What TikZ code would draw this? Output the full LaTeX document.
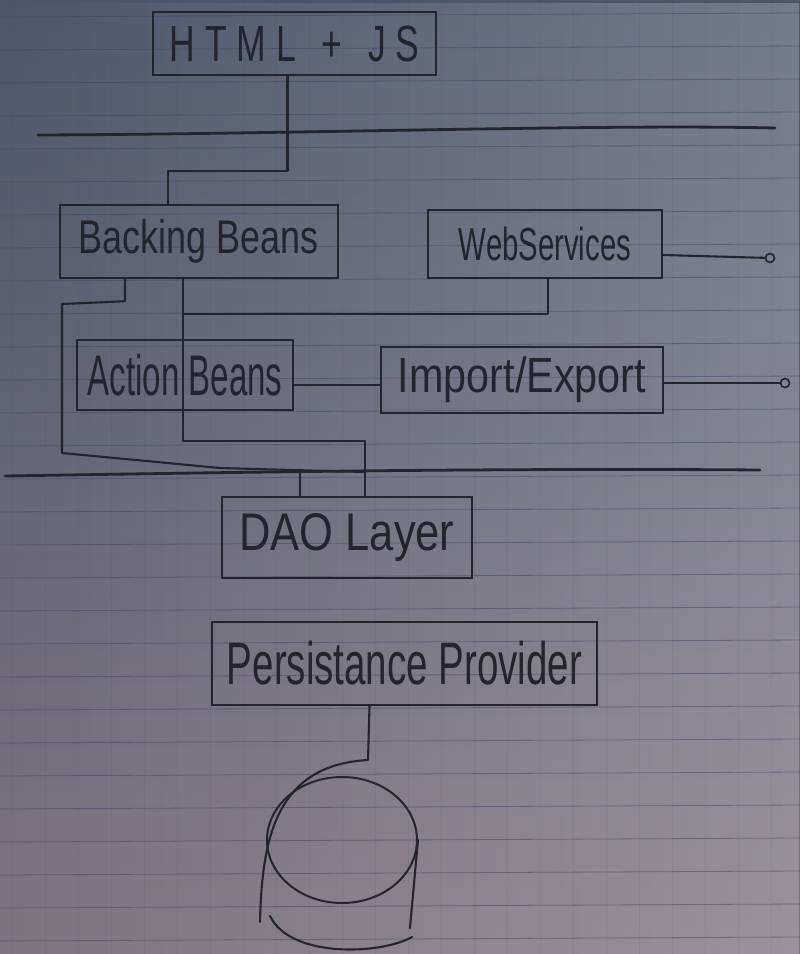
\documentclass[tikz,border=0pt]{standalone}
\usepackage{fontspec}
\setmainfont{Liberation Sans}
\usepackage{graphicx}
\usetikzlibrary{shapes.geometric,fadings}
\definecolor{pencil}{RGB}{36,36,44}
\definecolor{papertop}{RGB}{76,86,106}
\definecolor{paperbot}{RGB}{126,116,128}
\definecolor{ruled}{RGB}{58,64,104}
\newcommand{\fitwh}[3]{\resizebox*{#1}{#2}{#3}}
\begin{document}
\begin{tikzpicture}[x=1pt,y=-1pt,
  box/.style={draw=pencil, line width=2.4pt, inner sep=0pt, text=pencil},
  conn/.style={draw=pencil, line width=2.1pt, line join=round, line cap=round},
  sep/.style={draw=pencil, line width=2.8pt, line cap=round},
  port/.style={circle, draw=pencil, line width=1.6pt, inner sep=0pt, minimum size=9pt},
  rule/.style={draw=ruled, line width=0.8pt, opacity=0.45},
  vrule/.style={draw=ruled, line width=0.6pt, opacity=0.08}]
\useasboundingbox (0,0) rectangle (800,954);
% paper
\fill[top color=papertop, bottom color=paperbot] (0,0) rectangle (800,954);
\fill[white, path fading=west, fill opacity=0.22] (0,0) rectangle (800,954);
\foreach \k in {0,...,28} { \draw[rule] (0,17+33*\k) -- (800,17+33*\k-4); }
\foreach \k in {0,...,24} { \draw[vrule] (12+33*\k,0) -- (12+33*\k,954); }

% boxes
\node[box, minimum width=283pt, minimum height=63pt] (html) at (294.5,43.5) {\fitwh{250pt}{36pt}{H T M L \, + \, J S}};
\node[box, minimum width=278pt, minimum height=73pt] (bb) at (199,241.5) {\fitwh{240pt}{44pt}{Backing Beans}};
\node[box, minimum width=234pt, minimum height=68pt] (ws) at (545,244) {\fitwh{172pt}{34pt}{WebServices}};
\node[box, minimum width=216pt, minimum height=70pt] (ab) at (185,375) {\fitwh{195pt}{42pt}{Action Beans}};
\node[box, minimum width=282pt, minimum height=66pt] (ie) at (522,380) {\fitwh{248pt}{46pt}{Import/Export}};
\node[box, minimum width=250pt, minimum height=81pt] (dao) at (347,537.5) {\fitwh{215pt}{48pt}{DAO Layer}};
\node[box, minimum width=385pt, minimum height=83pt] (pp) at (404.5,663.5) {\fitwh{355pt}{44pt}{Persistance Provider}};

% ports
\node[port] (wsport) at (770,258) {};
\node[port] (ieport) at (785,383) {};

% layer separators
\coordinate (s1a) at (38,135);
\coordinate (s1b) at (775,128);
\coordinate (s2a) at (5,476);
\coordinate (s2b) at (760,470);
\draw[sep] (s1a) .. controls (300,134) and (600,124) .. (s1b);
\draw[sep] (s2a) .. controls (250,472) and (500,468) .. (s2b);

% connectors
\draw[conn] ([xshift=-7pt]html.south) -- ++(0,95) -| ([xshift=-31pt]bb.north);
\coordinate (m1) at (365,472);
\draw[conn] ([xshift=-74pt]bb.south) -- ++(0,22) -- (62,304) -- (62,453) -- (220,468) -- (m1);
\draw[conn] ([xshift=-16pt]bb.south) |- ([xshift=18pt]dao.north |- 0,441) -- ([xshift=18pt]dao.north);
\coordinate (j1) at (183,314);
\draw[conn] ([xshift=3pt]ws.south) |- (j1);
\draw[conn] ([xshift=-47pt]dao.north) -- ++(0,-24);
\draw[conn] ([yshift=-10pt]ab.east) -- ([yshift=-5pt]ie.west);
\draw[conn] ([yshift=-11pt]ws.east) -- (wsport);
\draw[conn] ([yshift=-3pt]ie.east) -- (ieport);

% database
\node[draw=pencil, line width=2pt, ellipse, minimum width=150pt, minimum height=126pt] (db) at (342,840) {};
\coordinate (dbin) at (368,760);
\draw[conn] ([xshift=-35pt]pp.south) -- (dbin) .. controls (275,765) and (262,840) .. (260,922);
\draw[conn] (db.east) -- (410,928);
\draw[conn] (270,916) .. controls (290,958) and (380,955) .. (412,937);
\end{tikzpicture}
\end{document}
